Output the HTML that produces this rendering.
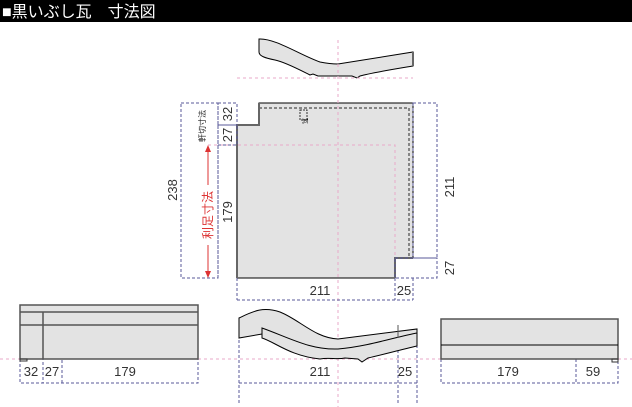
<!DOCTYPE html>
<html><head><meta charset="utf-8"><style>
html,body{margin:0;padding:0;background:#fff;}
svg{display:block;}
text{font-family:"Liberation Sans","Noto Sans CJK JP",sans-serif;}
</style></head><body>
<svg width="632" height="407" viewBox="0 0 632 407" xmlns="http://www.w3.org/2000/svg">
<rect x="0" y="0" width="632" height="22" fill="#000"/>
<text x="2" y="17" font-size="16" fill="#fff">■黒いぶし瓦　寸法図</text>

<!-- top curved profile -->
<path d="M259,39 C275,38 300,55 320,62 C330,64 335,64 338,64 L413,52 L413,66 C395,69 370,73 360,76 L357,78 L352,76 L330,76 L318,76 L313,74 L310,75 C300,70 285,62 275,60 C265,58 259,56 259,52 Z" fill="#e3e3e3" stroke="#000" stroke-width="1"/>
<line x1="413" y1="52" x2="413" y2="66" stroke="#666" stroke-width="2"/>

<!-- main tile -->
<path d="M259,103 L413,103 L413,258 L395,258 L395,278 L237,278 L237,125 L259,125 Z" fill="#e3e3e3" stroke="#000" stroke-width="1"/>
<path d="M259,103 L259,125 L237,125 L237,278" fill="none" stroke="#666" stroke-width="2"/>
<path d="M395,278 L395,258 L413,258" fill="none" stroke="#666" stroke-width="2"/>
<path d="M259,108 L409,108 L409,258" fill="none" stroke="#666" stroke-width="1.5" stroke-dasharray="3,2"/>
<rect x="300" y="110" width="7" height="10" fill="none" stroke="#333" stroke-dasharray="2,1"/>
<text x="306" y="115" font-size="6" transform="rotate(90 303 115)">瓦</text>

<!-- pink guides -->
<g stroke="#e8a8c8" stroke-width="1" stroke-dasharray="3,3" fill="none">
<line x1="338" y1="40" x2="338" y2="407"/>
<line x1="237" y1="78" x2="413" y2="78"/>
<path d="M208,145 L395,145 L395,258"/>
<line x1="0" y1="359" x2="632" y2="359"/>
</g>

<!-- dimension boxes -->
<g stroke="#5a5a9a" stroke-width="1" stroke-dasharray="3,2" fill="none">
<rect x="181" y="103" width="37" height="175"/>
<rect x="218" y="103" width="19" height="22"/>
<rect x="218" y="125" width="19" height="20"/>
<line x1="218" y1="145" x2="218" y2="278"/>
<line x1="237" y1="278" x2="237" y2="300"/>
<line x1="395" y1="278" x2="395" y2="300"/>
<line x1="413" y1="278" x2="413" y2="300"/>
<line x1="237" y1="300" x2="413" y2="300"/>
<rect x="413" y="103" width="24" height="155"/>
<rect x="395" y="258" width="42" height="20"/>
<path d="M20,359 L20,383 L198,383 L198,359"/>
<line x1="43" y1="312" x2="43" y2="383"/>
<line x1="62" y1="305" x2="62" y2="383"/>
<line x1="239" y1="335" x2="239" y2="405"/>
<line x1="398" y1="340" x2="398" y2="405"/>
<line x1="417" y1="340" x2="417" y2="405"/>
<line x1="239" y1="383" x2="417" y2="383"/>
<path d="M441,359 L441,383 L618,383 L618,359"/>
<line x1="576" y1="319" x2="576" y2="383"/>
</g>

<!-- labels -->
<g font-size="13" fill="#333">
<text x="177" y="190" text-anchor="middle" transform="rotate(-90 177 190)">238</text>
<text x="232" y="212" text-anchor="middle" transform="rotate(-90 232 212)">179</text>
<text x="232" y="114" text-anchor="middle" transform="rotate(-90 232 114)">32</text>
<text x="232" y="135" text-anchor="middle" transform="rotate(-90 232 135)">27</text>
<text x="454" y="187" text-anchor="middle" transform="rotate(-90 454 187)">211</text>
<text x="454" y="268" text-anchor="middle" transform="rotate(-90 454 268)">27</text>
<text x="320" y="295" text-anchor="middle">211</text>
<text x="404" y="295" text-anchor="middle">25</text>
<text x="31" y="376" text-anchor="middle">32</text>
<text x="52" y="376" text-anchor="middle">27</text>
<text x="125" y="376" text-anchor="middle">179</text>
<text x="320" y="376" text-anchor="middle">211</text>
<text x="405" y="376" text-anchor="middle">25</text>
<text x="508" y="376" text-anchor="middle">179</text>
<text x="593" y="376" text-anchor="middle">59</text>
</g>
<text x="205" y="126" font-size="8" text-anchor="middle" fill="#222" transform="rotate(-90 205 126)">軒切寸法</text>
<!-- red arrow -->
<line x1="208" y1="150" x2="208" y2="273" stroke="#d33" stroke-width="1"/>
<path d="M205,152 L208,145 L211,152 Z M205,271 L208,278 L211,271 Z" fill="#d33"/>
<rect x="202" y="185" width="12" height="60" fill="#fff"/>
<text x="208" y="215" font-size="12" fill="#d33" text-anchor="middle" transform="rotate(-90 208 215)" dy="4">利足寸法</text>

<!-- bottom left box -->
<rect x="20" y="305" width="178" height="54" fill="#e3e3e3" stroke="#555" stroke-width="1.5"/>
<line x1="20" y1="312" x2="198" y2="312" stroke="#555" stroke-width="1.5"/>
<line x1="20" y1="325" x2="198" y2="325" stroke="#555" stroke-width="1.5"/>
<line x1="43" y1="312" x2="43" y2="359" stroke="#555" stroke-width="1.5"/>
<rect x="20" y="359" width="7" height="2" fill="none" stroke="#333"/>

<!-- bottom middle profile -->
<path d="M239,318 C252,312 262,306 280,312 C300,320 315,338 338,339 L417,329 L417,340 C395,343 365,348 338,352 C310,352 290,340 262,334 L239,338 Z" fill="#e3e3e3" stroke="#000"/>
<path d="M262,328 L262,338 C275,342 290,356 320,359 C330,357 336,360 345,358 L358,359 L362,362 L368,358 C385,354 400,350 417,346 L417,333 C395,337 370,346 338,349 C310,350 290,338 262,328 Z" fill="#e3e3e3" stroke="#000"/>
<line x1="398" y1="325" x2="398" y2="338" stroke="#555"/>

<!-- bottom right box -->
<rect x="441" y="319" width="177" height="40" fill="#e3e3e3" stroke="#555" stroke-width="1.5"/>
<line x1="441" y1="345" x2="618" y2="345" stroke="#000" stroke-width="1"/>
<rect x="612" y="359" width="6" height="3" fill="none" stroke="#333"/>
</svg>
</body></html>
